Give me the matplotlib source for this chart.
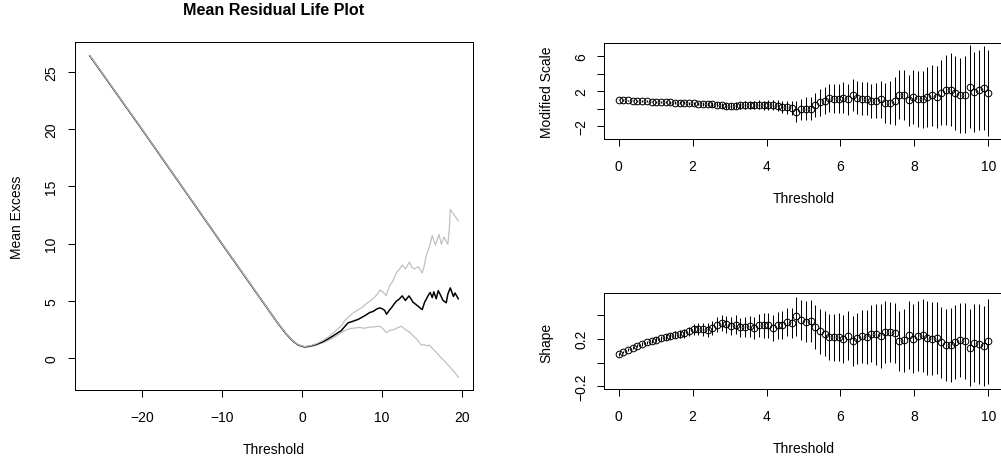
import numpy as np
import matplotlib.pyplot as plt

plt.rcParams['font.family'] = ['Liberation Sans', 'DejaVu Sans']

# mean residual life: mean excess and 95% bounds
mrl_u = [-26.5, -20, -10, -3.0, -2.0, -1.2, -0.5, 0.3, 1.0, 1.8, 2.6, 3.3, 3.9, 4.5, 4.9,
         5.3, 5.75, 6.2, 6.6, 7.0, 7.4, 7.9, 8.45, 8.9, 9.3, 9.7, 9.95, 10.3, 10.55, 10.9,
         11.2, 11.5, 11.8, 12.1, 12.5, 12.9, 13.35, 13.6, 13.85, 14.4, 15.0, 15.3, 15.5,
         15.75, 16.0, 16.25, 16.45, 16.75, 17.0, 17.3, 17.6, 18.0, 18.2, 18.5, 18.9, 19.1, 19.5]
mrl_mean = [26.4, 20.0, 10.0, 3.05, 2.15, 1.55, 1.17, 1.0, 1.06, 1.22, 1.45, 1.72, 1.97, 2.25, 2.42,
            2.75, 3.1, 3.2, 3.3, 3.4, 3.55, 3.75, 4.0, 4.1, 4.3, 4.4, 4.35, 4.2, 3.85, 4.2,
            4.45, 4.75, 5.0, 5.15, 5.45, 5.05, 5.45, 5.2, 4.9, 4.6, 4.25, 4.9, 5.15,
            5.5, 5.75, 5.3, 5.8, 5.2, 5.9, 5.5, 5.05, 4.85, 5.6, 6.15, 5.4, 5.7, 5.2]

upper_u = [-26.5, -20, -10, -3.0, -2.0, -1.2, -0.5, 0.3, 1.0, 1.8, 2.6, 3.3, 3.9, 4.5, 4.9,
           5.3, 5.6, 6.2, 6.8, 7.4, 8.0, 8.5, 9.0, 9.4, 9.7, 10.1, 10.5, 10.9, 11.3, 11.8,
           12.2, 12.5, 12.9, 13.4, 13.7, 14.05, 14.5, 15.0, 15.2, 15.5, 15.9, 16.25, 16.65,
           17.1, 17.4, 17.7, 18.2, 18.4, 18.5, 19.0, 19.5]
upper_me = [26.42, 20.02, 10.02, 3.07, 2.17, 1.57, 1.19, 1.03, 1.10, 1.28, 1.55, 1.88, 2.22, 2.6, 2.85,
            3.25, 3.5, 3.85, 4.15, 4.4, 4.75, 5.0, 5.3, 5.6, 5.95, 5.8, 5.45, 6.3, 6.7, 7.5,
            7.8, 8.15, 7.8, 8.4, 7.95, 7.8, 8.0, 7.45, 7.9, 8.95, 9.75, 10.7, 9.9,
            10.8, 9.95, 10.6, 9.95, 11.4, 13.0, 12.5, 12.0]

lower_u = [-26.5, -20, -10, -3.0, -2.0, -1.2, -0.5, 0.3, 1.0, 1.8, 2.6, 3.3, 3.9, 4.5, 5.1,
           5.6, 6.0, 6.6, 7.2, 7.8, 8.4, 9.0, 9.7, 10.1, 10.5, 11.0, 11.6, 12.0, 12.4, 12.9,
           13.4, 13.9, 14.4, 14.9, 15.2, 15.6, 15.9, 16.3, 16.8, 17.3, 17.8, 18.2, 18.7, 19.1, 19.5]
lower_me = [26.38, 19.98, 9.98, 3.03, 2.13, 1.53, 1.15, 0.98, 1.03, 1.16, 1.36, 1.58, 1.8, 2.05, 2.35,
            2.5, 2.6, 2.65, 2.7, 2.62, 2.72, 2.75, 2.8, 2.6, 2.25, 2.45, 2.55, 2.7, 2.8, 2.5,
            2.3, 1.95, 1.6, 1.15, 1.2, 1.1, 1.15, 0.85, 0.5, 0.1, -0.25, -0.55, -0.95, -1.25, -1.65]

# threshold range fits: 80 thresholds from 0 to 10
thresholds = np.linspace(0, 10, 80)

scale_est = [1.00, 0.97, 0.94, 0.91, 0.88, 0.86, 0.83, 0.80, 0.78, 0.75,
             0.73, 0.71, 0.68, 0.66, 0.64, 0.62, 0.58, 0.56, 0.57, 0.55,
             0.50, 0.44, 0.38, 0.33, 0.30, 0.33, 0.38, 0.40, 0.42, 0.40,
             0.42, 0.38, 0.36, 0.38, 0.33, 0.22, 0.12, 0.05, -0.35, -0.10,
             0.00, 0.00, 0.40, 0.70, 0.90, 1.20, 1.15, 1.15, 1.25, 1.07,
             1.60, 1.26, 1.15, 1.15, 0.84, 0.92, 1.07, 0.69, 0.69, 0.84,
             1.60, 1.53, 0.95, 1.38, 1.07, 1.07, 1.34, 1.53, 1.34, 1.84,
             2.14, 2.14, 1.84, 1.53, 1.60, 2.52, 1.91, 2.14, 2.37, 1.76]
scale_ci = [0.07, 0.07, 0.08, 0.08, 0.09, 0.09, 0.10, 0.10, 0.11, 0.12,
            0.13, 0.14, 0.15, 0.16, 0.17, 0.18, 0.20, 0.21, 0.23, 0.25,
            0.27, 0.29, 0.31, 0.33, 0.35, 0.37, 0.39, 0.42, 0.45, 0.48,
            0.51, 0.54, 0.57, 0.60, 0.64, 0.68, 0.72, 0.78, 1.20, 1.22,
            1.28, 1.32, 1.40, 1.50, 1.58, 1.65, 1.70, 1.72, 1.75, 1.80,
            1.85, 1.88, 1.90, 1.92, 1.98, 2.05, 2.15, 2.30, 2.45, 2.75,
            2.85, 2.90, 2.95, 3.10, 3.20, 3.30, 3.45, 3.50, 3.55, 3.70,
            4.00, 4.20, 4.25, 4.30, 4.45, 4.80, 4.55, 4.60, 4.80, 4.95]

shape_est = [0.068, 0.088, 0.107, 0.124, 0.141, 0.155, 0.169, 0.181, 0.192, 0.203,
             0.214, 0.225, 0.234, 0.237, 0.245, 0.262, 0.279, 0.282, 0.279, 0.273,
             0.293, 0.319, 0.330, 0.324, 0.305, 0.319, 0.296, 0.298, 0.307, 0.290,
             0.313, 0.313, 0.313, 0.290, 0.313, 0.318, 0.341, 0.335, 0.389, 0.358,
             0.344, 0.347, 0.299, 0.262, 0.243, 0.212, 0.212, 0.214, 0.200, 0.225,
             0.178, 0.206, 0.220, 0.217, 0.243, 0.237, 0.223, 0.257, 0.257, 0.248,
             0.180, 0.186, 0.234, 0.200, 0.225, 0.229, 0.206, 0.200, 0.206, 0.172,
             0.149, 0.149, 0.172, 0.189, 0.183, 0.124, 0.166, 0.155, 0.138, 0.178]
shape_ci = [0.010, 0.011, 0.012, 0.013, 0.014, 0.015, 0.016, 0.018, 0.020, 0.022,
            0.024, 0.027, 0.030, 0.033, 0.036, 0.040, 0.044, 0.048, 0.052, 0.056,
            0.060, 0.064, 0.068, 0.072, 0.075, 0.078, 0.082, 0.085, 0.088, 0.091,
            0.100, 0.104, 0.108, 0.111, 0.114, 0.117, 0.120, 0.125, 0.165, 0.170,
            0.174, 0.178, 0.182, 0.186, 0.190, 0.193, 0.196, 0.200, 0.203, 0.206,
            0.210, 0.215, 0.220, 0.228, 0.240, 0.255, 0.268, 0.262, 0.255, 0.250,
            0.252, 0.262, 0.285, 0.290, 0.295, 0.305, 0.310, 0.308, 0.305, 0.300,
            0.305, 0.310, 0.312, 0.315, 0.320, 0.325, 0.330, 0.335, 0.335, 0.360]

px = 0.72  # one pixel in points at dpi 100
fig = plt.figure(figsize=(10.01, 4.64), dpi=100)

def r_style(ax, ypad):
    for s in ax.spines.values():
        s.set_linewidth(px)
    ax.tick_params(direction='out', length=5, width=px, labelsize=10, colors='black')
    ax.tick_params(axis='x', pad=9.5)
    ax.tick_params(axis='y', pad=ypad)

# left: mean residual life plot
ax1 = fig.add_axes([75 / 1001, 73 / 464, 398 / 1001, 348 / 464])
ax1.plot(lower_u, lower_me, color='#bebebe', lw=px * 1.2)
ax1.plot(mrl_u, mrl_mean, color='black', lw=px * 1.5)
ax1.plot(upper_u, upper_me, color='#bebebe', lw=px * 1.2)
ax1.set_xlim(-28.34, 21.34)
ax1.set_ylim(-2.76, 27.6)
ax1.set_xticks([-20, -10, 0, 10, 20])
ax1.set_yticks([0, 5, 10, 15, 20, 25], ['0', '5', '10', '15', '20', '25'], rotation=90, va='center')
r_style(ax1, 7)
ax1.set_title('Mean Residual Life Plot', fontsize=11.6, fontweight='bold', y=1.092, pad=0, va='center')
ax1.set_xlabel('Threshold', fontsize=10, va='center')
ax1.xaxis.set_label_coords(0.5, -0.1695)
ax1.set_ylabel('Mean Excess', fontsize=10, va='center')
ax1.yaxis.set_label_coords(-0.1457, 0.4986)

# right top: modified scale
ax2 = fig.add_axes([604 / 1001, 324 / 464, 399 / 1001, 96 / 464])
lo = np.array(scale_est) - np.array(scale_ci)
hi = np.array(scale_est) + np.array(scale_ci)
ax2.vlines(thresholds, lo, hi, color='black', lw=px)
ax2.plot(thresholds, scale_est, 'o', mfc='none', mec='black', ms=4.8, mew=px)
ax2.set_xlim(-0.4, 10.4)
ax2.set_ylim(-3.5, 7.53)
ax2.set_xticks([0, 2, 4, 6, 8, 10])
ax2.set_yticks([-2, 0, 2, 4, 6], ['\u22122', '', '2', '', '6'], rotation=90, va='center')
r_style(ax2, 6)
ax2.set_xlabel('Threshold', fontsize=10, va='center')
ax2.xaxis.set_label_coords(0.4996, -0.615)
ax2.set_ylabel('Modified Scale', fontsize=10, va='center')
ax2.yaxis.set_label_coords(-0.1429, 0.495)

# right bottom: shape
ax3 = fig.add_axes([604 / 1001, 74 / 464, 399 / 1001, 96 / 464])
lo = np.array(shape_est) - np.array(shape_ci)
hi = np.array(shape_est) + np.array(shape_ci)
ax3.vlines(thresholds, lo, hi, color='black', lw=px)
ax3.plot(thresholds, shape_est, 'o', mfc='none', mec='black', ms=4.8, mew=px)
ax3.set_xlim(-0.4, 10.4)
ax3.set_ylim(-0.223, 0.586)
ax3.set_xticks([0, 2, 4, 6, 8, 10])
ax3.set_yticks([-0.2, 0.0, 0.2, 0.4], ['\u22120.2', '', '0.2', ''], rotation=90, va='center')
r_style(ax3, 6)
ax3.set_xlabel('Threshold', fontsize=10, va='center')
ax3.xaxis.set_label_coords(0.4996, -0.615)
ax3.set_ylabel('Shape', fontsize=10, va='center')
ax3.yaxis.set_label_coords(-0.145, 0.495)

fig.savefig('out.png', dpi=100)
